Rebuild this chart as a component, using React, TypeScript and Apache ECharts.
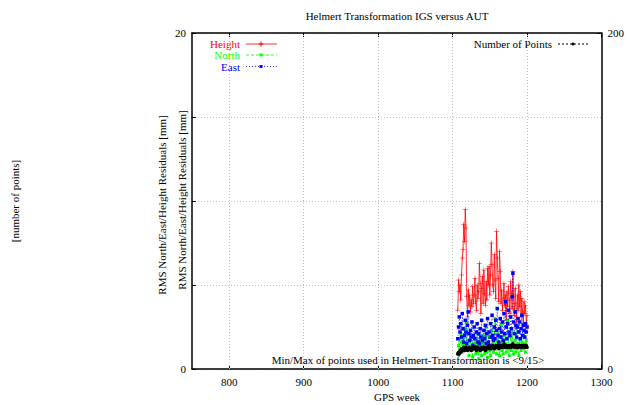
import React, { useEffect, useRef } from "react";
import * as echarts from "echarts";

const firstWeek = 1107;
const heightRms = [
  3.5, 5.3, 4.6, 5.0, 4.1, 5.6, 6.6, 7.1, 8.6, 7.6,
  9.5, 8.4, 4.3, 3.1, 4.7, 3.8, 4.4, 3.4, 4.1, 3.7,
  4.9, 3.9, 4.4, 5.4, 4.0, 3.5, 5.0, 4.2, 4.6, 6.3,
  5.1, 3.3, 4.8, 5.5, 3.9, 5.9, 4.5, 3.8, 5.2, 4.1,
  6.0, 5.0, 6.1, 4.4, 5.6, 7.5, 6.2, 5.0, 4.6, 6.8,
  5.3, 4.2, 8.2, 6.6, 5.4, 4.0, 7.0, 5.8, 3.9, 4.7,
  3.5, 4.2, 5.1, 3.8, 4.4, 2.9, 4.6, 3.7, 4.9, 4.1,
  3.3, 5.2, 4.5, 3.6, 5.8, 4.3, 3.2, 4.8, 3.9, 2.8,
  4.4, 3.5, 5.0, 3.7, 4.6, 3.1, 4.2, 3.4, 2.7, 4.0,
  3.3, 3.8, 2.6, 3.2,
];
const northRms = [
  0.9, 1.4, 1.8, 1.2, 2.1, 1.6, 1.0, 1.9, 1.3, 2.4,
  1.5, 1.1, 2.8, 1.7, 1.2, 0.8, 1.6, 1.3, 2.0, 1.1,
  0.7, 1.5, 1.2, 1.8, 0.9, 1.4, 2.2, 1.0, 0.6, 1.3,
  1.7, 1.1, 0.8, 1.5, 2.0, 1.2, 0.9, 1.6, 2.5, 1.0,
  0.7, 1.4, 1.9, 1.1, 0.8, 1.3, 2.3, 1.5, 1.0, 1.8,
  3.0, 1.2, 0.9, 1.6, 2.1, 1.3, 0.8, 1.4, 2.6, 1.1,
  1.7, 0.9, 1.3, 2.0, 1.5, 1.0, 1.8, 2.9, 1.2, 0.8,
  1.4, 1.9, 1.1, 2.2, 1.6, 0.9, 1.3, 1.7, 1.0, 2.4,
  1.2, 1.5, 0.8, 1.8, 1.3, 1.1, 1.6, 1.4, 2.0, 1.2,
  1.5, 1.0, 1.7, 1.3,
];
const eastRms = [
  1.8, 2.5, 3.1, 2.2, 2.7, 1.9, 3.3, 2.4, 1.6, 2.0,
  2.9, 2.2, 1.5, 2.6, 3.4, 2.1, 1.7, 2.3, 1.9, 2.8,
  1.4, 2.0, 2.5, 1.8, 1.3, 2.2, 2.7, 1.6, 2.1, 1.5,
  2.4, 1.9, 2.9, 1.7, 1.2, 2.3, 1.8, 2.6, 1.5, 2.1,
  3.0, 1.6, 2.2, 1.4, 2.7, 1.9, 3.2, 2.0, 1.7, 2.5,
  1.8, 2.9, 2.3, 3.6, 2.0, 1.6, 2.4, 3.0, 1.9, 2.2,
  2.8, 1.7, 3.3, 2.1, 4.0, 2.5, 1.8, 2.7, 3.5, 2.2,
  2.0, 3.1, 2.4, 4.3, 5.7, 2.8, 2.1, 3.4, 2.6, 1.9,
  2.5, 3.0, 2.2, 2.8, 1.8, 2.4, 3.2, 2.0, 2.6, 2.3,
  1.9, 2.7, 2.2, 2.5,
];
const numPoints = [
  9, 10, 9, 11, 10, 12, 11, 12, 13, 11,
  12, 13, 12, 11, 12, 13, 12, 12, 11, 13,
  12, 13, 12, 12, 13, 11, 12, 13, 12, 12,
  11, 12, 13, 12, 12, 13, 12, 11, 12, 13,
  12, 13, 14, 12, 13, 12, 13, 14, 13, 12,
  13, 14, 13, 13, 14, 12, 13, 14, 13, 14,
  13, 14, 15, 13, 14, 13, 14, 13, 14, 14,
  13, 14, 13, 14, 15, 14, 13, 14, 14, 13,
  14, 13, 14, 14, 13, 14, 14, 13, 14, 14,
  13, 14, 14, 13,
];
const xTicks = [800, 900, 1000, 1100, 1200, 1300];
const xGridLines = [800, 900, 1000, 1100, 1200];

const FONT = "Liberation Serif";
const PLUS = "path://M4.5,0h1v4.5h4.5v1h-4.5v4.5h-1v-4.5h-4.5v-1h4.5z";

const toPairs = (arr: number[]) => arr.map((v, i) => [firstWeek + i, v]);

export default function App() {
  const ref = useRef<HTMLDivElement>(null);
  useEffect(() => {
    if (!ref.current) return;
    const chart = echarts.init(ref.current, null, { renderer: "svg" });
    const txt = { fontFamily: FONT, fontSize: 11, color: "#000" };
    const legendItem = (label: string, color: string, y: number, dash: any, sym: string) => {
      const els: any[] = [
        { type: "text", x: 240, y, style: { text: label, fill: color, font: `11px '${FONT}'`, textAlign: "right", textVerticalAlign: "middle" } },
        { type: "line", shape: { x1: 246, y1: y, x2: 277, y2: y }, style: { stroke: color, lineWidth: 1, lineDash: dash, opacity: 0.8 } },
      ];
      if (sym === "plus") {
        els.push({ type: "line", shape: { x1: 258.5, y1: y, x2: 263.5, y2: y }, style: { stroke: color, lineWidth: 1 } });
        els.push({ type: "line", shape: { x1: 261, y1: y - 2.5, x2: 261, y2: y + 2.5 }, style: { stroke: color, lineWidth: 1 } });
      } else {
        els.push({ type: "rect", shape: { x: 259.5, y: y - 1.5, width: 3, height: 3 }, style: { fill: color } });
      }
      return els;
    };
    chart.setOption({
      animation: false,
      backgroundColor: "#fff",
      grid: { left: 192, right: 24, top: 33, bottom: 36, containLabel: false, show: false },
      xAxis: [
        {
          type: "value", min: 750, max: 1300, position: "bottom",
          axisLine: { show: true, onZero: false, lineStyle: { color: "#000", width: 1.5 } },
          axisTick: { show: true, inside: true, length: 4, customValues: xTicks, lineStyle: { color: "#000" } },
          axisLabel: { ...txt, margin: 7, customValues: xTicks, showMinLabel: true, showMaxLabel: true, formatter: (v: number) => String(v) },
          splitLine: { show: false },
        },
        {
          type: "value", min: 750, max: 1300, position: "top",
          axisLine: { show: true, onZero: false, lineStyle: { color: "#000", width: 1.5 } },
          axisTick: { show: true, inside: true, length: 4, customValues: xTicks, lineStyle: { color: "#000" } },
          axisLabel: { show: false },
          splitLine: { show: false },
        },
      ],
      yAxis: [
        {
          type: "value", min: 0, max: 20, interval: 5, position: "left",
          axisLine: { show: true, onZero: false, lineStyle: { color: "#000", width: 1.5 } },
          axisTick: { show: true, inside: true, length: 4, lineStyle: { color: "#000" } },
          axisLabel: { ...txt, margin: 6, formatter: (v: number) => (v === 0 || v === 20 ? String(v) : "") },
          splitLine: { show: true, lineStyle: { color: "#c0c0c0", type: [1, 2], width: 1 } },
        },
        {
          type: "value", min: 0, max: 200, interval: 200, position: "right",
          axisLine: { show: true, onZero: false, lineStyle: { color: "#000", width: 1.5 } },
          axisTick: { show: true, inside: true, length: 4, lineStyle: { color: "#000" } },
          axisLabel: { ...txt, margin: 6 },
          splitLine: { show: false },
        },
      ],
      series: [
        {
          name: "grid", type: "line", data: [], silent: true, z: 1,
          markLine: {
            silent: true, symbol: "none", label: { show: false }, animation: false,
            lineStyle: { color: "#c0c0c0", type: [1, 2], width: 1 },
            data: xGridLines.map((v) => ({ xAxis: v })),
          },
        },
        {
          name: "Height", type: "line", xAxisIndex: 0, yAxisIndex: 0, data: toPairs(heightRms),
          color: "#ff0000", lineStyle: { width: 1, color: "#ff0000", opacity: 0.8 },
          symbol: PLUS, symbolSize: 5, itemStyle: { color: "#ff0000" }, z: 3,
        },
        {
          name: "North", type: "line", xAxisIndex: 0, yAxisIndex: 0, data: toPairs(northRms),
          color: "#00ff00", lineStyle: { width: 1, color: "#00ff00", type: [3, 2] },
          symbol: "rect", symbolSize: 3, itemStyle: { color: "#00ff00" }, z: 4,
        },
        {
          name: "East", type: "line", xAxisIndex: 0, yAxisIndex: 0, data: toPairs(eastRms),
          color: "#0000ff", lineStyle: { width: 1, color: "#0000ff", type: [1, 2], opacity: 0.7 },
          symbol: "rect", symbolSize: 3.5, itemStyle: { color: "#0000ff" }, z: 5,
        },
        {
          name: "Number of Points", type: "line", xAxisIndex: 0, yAxisIndex: 1, data: toPairs(numPoints),
          color: "#000", lineStyle: { width: 1.2, color: "#000", type: [3, 2] },
          symbol: "circle", symbolSize: 3.5, itemStyle: { color: "#000" }, z: 6,
        },
      ],
      graphic: [
        { type: "text", x: 397, y: 16, style: { text: "Helmert Transformation IGS versus AUT", fill: "#000", font: `11px '${FONT}'`, textAlign: "center", textVerticalAlign: "middle" } },
        { type: "text", x: 162, y: 205, rotation: Math.PI / 2, style: { text: "RMS North/East/Height Residuals [mm]", fill: "#000", font: `11px '${FONT}'`, textAlign: "center", textVerticalAlign: "middle" } },
        { type: "text", x: 182, y: 200, rotation: Math.PI / 2, style: { text: "RMS North/East/Height Residuals [mm]", fill: "#000", font: `11px '${FONT}'`, textAlign: "center", textVerticalAlign: "middle" } },
        { type: "text", x: 15, y: 201, rotation: Math.PI / 2, style: { text: "[number of points]", fill: "#000", font: `11px '${FONT}'`, textAlign: "center", textVerticalAlign: "middle" } },
        { type: "text", x: 397, y: 397, style: { text: "GPS week", fill: "#000", font: `11px '${FONT}'`, textAlign: "center", textVerticalAlign: "middle" } },
        { type: "text", x: 408, y: 360, z: 10, style: { text: "Min/Max of points used in Helmert-Transformation is <9/15>", fill: "#000", font: `11px '${FONT}'`, textAlign: "center", textVerticalAlign: "middle" } },
        ...legendItem("Height", "#ff0000", 44, null, "plus"),
        ...legendItem("North", "#00ff00", 55, [3, 2], "rect"),
        ...legendItem("East", "#0000ff", 66.5, [1, 2], "rect"),
        { type: "text", x: 552, y: 44, style: { text: "Number of Points", fill: "#000", font: `11px '${FONT}'`, textAlign: "right", textVerticalAlign: "middle" } },
        { type: "line", shape: { x1: 558, y1: 44, x2: 588, y2: 44 }, style: { stroke: "#000", lineWidth: 1, lineDash: [2, 2] } },
        { type: "circle", shape: { cx: 573, cy: 44, r: 1.5 }, style: { fill: "#000" } },
      ],
    });
    return () => chart.dispose();
  }, []);
  return <div ref={ref} style={{ position: "fixed", left: 0, top: 0, width: 627, height: 405 }} />;
}
